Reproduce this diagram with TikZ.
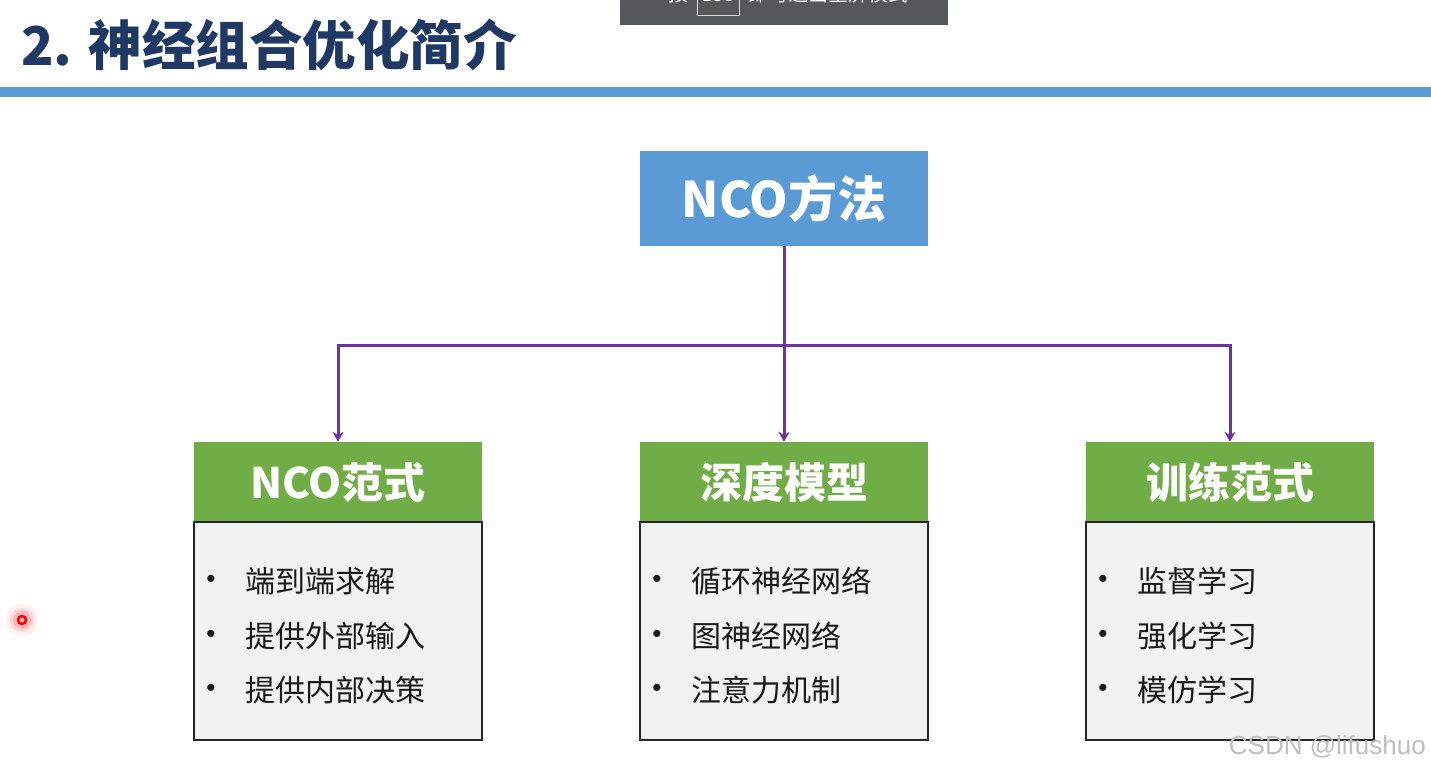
\documentclass[tikz,border=0pt]{standalone}
\usepackage{fontspec}
\setmainfont{Noto Sans CJK SC}
\newfontfamily\wmfont{Liberation Sans}
\usetikzlibrary{arrows.meta}
\definecolor{navy}{HTML}{1F3864}
\definecolor{barblue}{HTML}{5B9BD5}
\definecolor{boxgreen}{HTML}{70AD47}
\definecolor{linkpurple}{HTML}{7034A2}
\definecolor{bodygray}{HTML}{F2F2F2}
\definecolor{ovgray}{HTML}{54575C}
\begin{document}
\begin{tikzpicture}[x=1pt,y=-1pt,
  topbox/.style={fill=barblue,draw=none,minimum width=288pt,minimum height=95pt,inner sep=0pt,text=white,font=\fontsize{49}{52}\selectfont\bfseries},
  headbox/.style={fill=boxgreen,draw=none,minimum width=288pt,minimum height=80pt,inner sep=0pt,text=white,font=\fontsize{42}{46}\selectfont\bfseries},
  bodybox/.style={fill=bodygray,draw=black!85,line width=1.5pt,minimum width=288pt,minimum height=218pt,inner sep=0pt},
  item/.style={anchor=west,inner sep=0pt,text=black!90,font=\fontsize{30}{34}\selectfont},
  dot/.style={anchor=center,inner sep=0pt,text=black!90,font=\wmfont\fontsize{26}{28}\selectfont},
  link/.style={draw=linkpurple,line width=3pt},
  arr/.style={link,-{Stealth[length=10pt,width=11pt]}}]
\useasboundingbox (0,0) rectangle (1431,774);
\fill[white] (0,0) rectangle (1431,774);
% screen overlay at top
\begin{scope}
\clip (620,0) rectangle (948,25);
\fill[ovgray] (620,0) rectangle (948,25);
\node[anchor=base west,inner sep=0pt,text=white,font=\fontsize{20}{22}\selectfont] (ovl1) at (668,1) {按};
\draw[white!85!black,line width=1pt] (697,-12) rectangle (739,15);
\node[anchor=base,inner sep=0pt,text=white,font=\fontsize{18}{20}\selectfont] (ovl2) at (718,1) {ESC};
\node[anchor=base west,inner sep=0pt,text=white,font=\fontsize{20}{22}\selectfont] (ovl3) at (748,1) {即可退出全屏模式};
\end{scope}
% title
\node[anchor=west,inner sep=0pt,text=navy,font=\fontsize{53.5}{56}\selectfont\bfseries] (title) at (21,45) {2. 神经组合优化简介};
\fill[barblue] (0,87) rectangle (1431,97);
% top box
\node[topbox] (nco) at (784,198.5) {NCO方法};
% headers
\node[headbox] (h1) at (338,482) {NCO范式};
\node[headbox] (h2) at (784,482) {深度模型};
\node[headbox] (h3) at (1230,482) {训练范式};
% bodies
\node[bodybox] (b1) at (338,631) {};
\node[bodybox] (b2) at (784,631) {};
\node[bodybox] (b3) at (1230,631) {};
% connectors
\coordinate (j) at (784,345);
\draw[link] (nco.south) -- (j);
\draw[arr] (j) -| (h1.north);
\draw[arr] (j) -- (h2.north);
\draw[arr] (j) -| (h3.north);
% items
\foreach \bx/\dx/\tx/\a/\b/\c in {b1/211/245/端到端求解/提供外部输入/提供内部决策,
                                   b2/657/691/循环神经网络/图神经网络/注意力机制,
                                   b3/1103/1137/监督学习/强化学习/模仿学习}{
  \node[dot] at (\dx,581) {•};
  \node[dot] at (\dx,636) {•};
  \node[dot] at (\dx,690) {•};
  \node[item] (\bx-1) at (\tx,581) {\a};
  \node[item] (\bx-2) at (\tx,636) {\b};
  \node[item] (\bx-3) at (\tx,690) {\c};
}
% red pointer dot
\foreach \r/\o in {16/0.06,12/0.1,9/0.15}{\fill[red,opacity=\o] (22,620) circle (\r pt);}
\draw[red,line width=2.5pt] (22,620) circle (4pt);
% watermark
\node[anchor=east,inner sep=0pt,text=black!25,font=\wmfont\fontsize{26}{28}\selectfont] (wm) at (1426,747) {CSDN @lifushuo};
\end{tikzpicture}
\end{document}
